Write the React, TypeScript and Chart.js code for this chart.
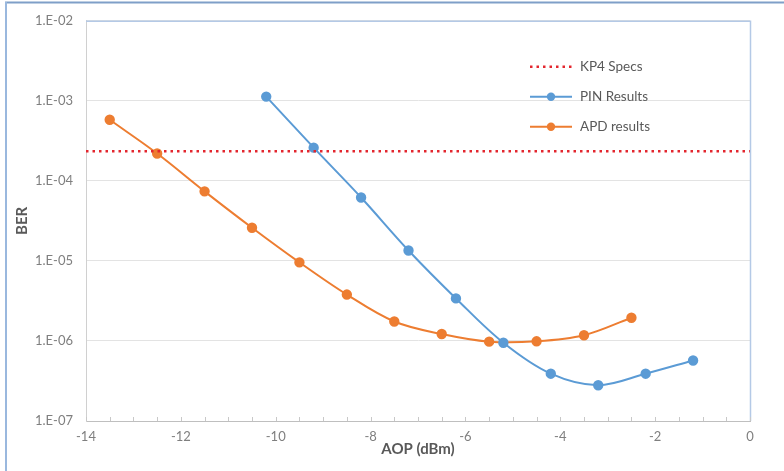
import React, { useEffect, useRef } from "react";
import { Chart, registerables } from "chart.js";

Chart.register(...registerables);

const pinAop = [-10.2, -9.2, -8.2, -7.2, -6.2, -5.2, -4.2, -3.2, -2.2, -1.2];
const pinBer = [1.13e-3, 2.6e-4, 6.2e-5, 1.35e-5, 3.4e-6, 9.5e-7, 3.9e-7, 2.8e-7, 3.9e-7, 5.7e-7];

const apdAop = [-13.5, -12.5, -11.5, -10.5, -9.5, -8.5, -7.5, -6.5, -5.5, -4.5, -3.5, -2.5];
const apdBer = [5.8e-4, 2.2e-4, 7.4e-5, 2.6e-5, 9.6e-6, 3.8e-6, 1.75e-6, 1.22e-6, 9.8e-7, 9.9e-7, 1.18e-6, 1.95e-6];

const kp4Aop = [-14, 0];
const kp4Ber = [2.35e-4, 2.35e-4];

const xMin = -14;
const xMax = 0;
const decades = [-7, -6, -5, -4, -3, -2];

const seriesNames = ["KP4 Specs", "PIN Results", "APD results"];
const FONT = "Lato, 'Open Sans', sans-serif";

const chromePlugin = {
  id: "chrome",
  beforeDraw(chart: any) {
    const { ctx, width, height } = chart;
    ctx.save();
    ctx.fillStyle = "#ffffff";
    ctx.fillRect(0, 0, width, height);
    ctx.strokeStyle = "#7f9fc8";
    ctx.lineWidth = 2;
    ctx.beginPath();
    ctx.moveTo(5, 2.5);
    ctx.lineTo(width, 2.5);
    ctx.stroke();
    ctx.strokeStyle = "#9ab8de";
    ctx.beginPath();
    ctx.moveTo(6, 2);
    ctx.lineTo(6, height);
    ctx.stroke();
    ctx.restore();
  },
  afterDraw(chart: any) {
    const { ctx, chartArea } = chart;
    const xs = chart.scales.x;
    ctx.save();
    ctx.strokeStyle = "#b4c9e6";
    ctx.lineWidth = 1.5;
    ctx.beginPath();
    ctx.moveTo(chartArea.left, chartArea.top + 0.5);
    ctx.lineTo(chartArea.right + 0.5, chartArea.top + 0.5);
    ctx.lineTo(chartArea.right + 0.5, chartArea.bottom);
    ctx.stroke();
    ctx.strokeStyle = "#c8c8c8";
    ctx.lineWidth = 1;
    for (let v = xMin; v <= xMax + 1e-9; v += 0.5) {
      const px = Math.round(xs.getPixelForValue(v)) + 0.5;
      ctx.beginPath();
      ctx.moveTo(px, chartArea.bottom);
      ctx.lineTo(px, chartArea.bottom - 4);
      ctx.stroke();
    }
    const items = chart.data.datasets;
    const lx = chartArea.left + 444;
    const ly = chartArea.top + 46;
    ctx.font = `13.5px ${FONT}`;
    ctx.textBaseline = "middle";
    items.forEach((ds: any, i: number) => {
      const y = ly + i * 30;
      ctx.strokeStyle = ds.borderColor;
      ctx.lineWidth = ds.borderWidth;
      ctx.setLineDash(ds.borderDash || []);
      ctx.beginPath();
      ctx.moveTo(lx, y);
      ctx.lineTo(lx + 42, y);
      ctx.stroke();
      ctx.setLineDash([]);
      if (ds.pointRadius > 0) {
        ctx.fillStyle = ds.borderColor;
        ctx.beginPath();
        ctx.arc(lx + 21, y, ds.pointRadius, 0, Math.PI * 2);
        ctx.fill();
      }
      ctx.fillStyle = "#595959";
      ctx.textAlign = "left";
      ctx.fillText(seriesNames[i], lx + 50, y);
    });
    ctx.restore();
  },
};

export default function App() {
  const ref = useRef<HTMLCanvasElement>(null);
  useEffect(() => {
    document.body.style.margin = "0";
    const toPts = (xs: number[], ys: number[]) => xs.map((x, i) => ({ x, y: ys[i] }));
    const chart = new Chart(ref.current!, {
      type: "line",
      data: {
        datasets: [
          {
            label: seriesNames[0],
            data: toPts(kp4Aop, kp4Ber),
            borderColor: "#e3262e",
            borderWidth: 2.5,
            borderDash: [2.5, 4],
            pointRadius: 0,
            tension: 0,
          },
          {
            label: seriesNames[1],
            data: toPts(pinAop, pinBer),
            borderColor: "#5b9bd5",
            backgroundColor: "#5b9bd5",
            borderWidth: 2,
            pointRadius: 4.2,
            pointHoverRadius: 4.2,
            tension: 0.35,
          },
          {
            label: seriesNames[2],
            data: toPts(apdAop, apdBer),
            borderColor: "#ed7d31",
            backgroundColor: "#ed7d31",
            borderWidth: 2,
            pointRadius: 4.2,
            pointHoverRadius: 4.2,
            tension: 0.35,
          },
        ],
      },
      plugins: [chromePlugin],
      options: {
        animation: false,
        responsive: false,
        layout: { padding: { top: 20, right: 34, left: 0, bottom: 0 } },
        plugins: { legend: { display: false }, tooltip: { enabled: false } },
        scales: {
          x: {
            type: "linear",
            min: xMin,
            max: xMax,
            afterFit: (s: any) => {
              s.height = 50;
            },
            ticks: {
              stepSize: 2,
              color: "#7f7f7f",
              font: { family: FONT, size: 13 },
              padding: 8,
              maxRotation: 0,
              callback: (v: any) => String(v),
            },
            grid: { drawOnChartArea: false, drawTicks: false },
            border: { color: "#bfbfbf", width: 1 },
            title: {
              display: true,
              text: "AOP (dBm)",
              color: "#595959",
              font: { family: FONT, size: 15, weight: "bold" },
              padding: { top: 0, bottom: 13 },
            },
          },
          y: {
            type: "logarithmic",
            min: 1e-7,
            max: 1e-2,
            afterFit: (s: any) => {
              s.width = 86;
            },
            afterBuildTicks: (s: any) => {
              s.ticks = decades.map((e) => ({ value: Math.pow(10, e) }));
            },
            ticks: {
              color: "#7f7f7f",
              font: { family: FONT, size: 13 },
              padding: 13,
              callback: (v: any) => {
                const e = Math.round(Math.log10(Number(v)));
                return "1.E-0" + String(-e);
              },
            },
            grid: { color: "#e3e3e3", drawTicks: false },
            border: { color: "#d0d0d0", width: 1 },
            title: {
              display: true,
              text: "BER",
              color: "#595959",
              font: { family: FONT, size: 15, weight: "bold" },
              padding: { top: 13, bottom: 0 },
            },
          },
        },
      },
    });
    return () => chart.destroy();
  }, []);
  return (
    <div style={{ width: 784, height: 471 }}>
      <canvas ref={ref} width={784} height={471} style={{ display: "block" }} />
    </div>
  );
}
